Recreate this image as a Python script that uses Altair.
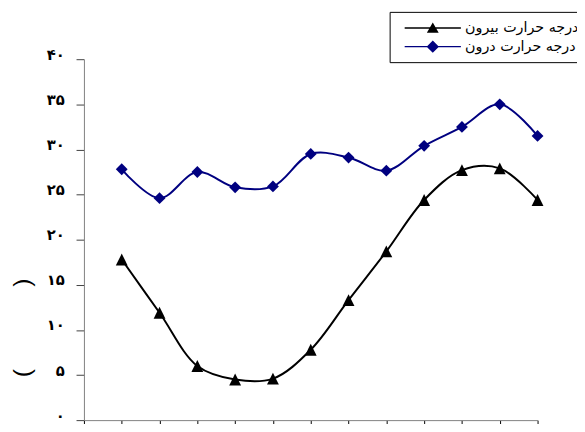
import altair as alt
import pandas as pd

# ---- data ----
months = [1, 2, 3, 4, 5, 6, 7, 8, 9, 10, 11, 12]
outside = [17.8, 11.9, 6.0, 4.5, 4.6, 7.8, 13.3, 18.7, 24.4, 27.7, 27.9, 24.4]
inside = [27.8, 24.6, 27.5, 25.8, 25.9, 29.5, 29.1, 27.65, 30.4, 32.5, 35.0, 31.5]
series_names = ["درجه حرارت بیرون", "درجه حرارت درون"]
series_colors = ["#000000", "#000080"]
y_tick_values = [0, 5, 10, 15, 20, 25, 30, 35, 40]
y_tick_labels = ["۰", "۵", "۱۰", "۱۵", "۲۰", "۲۵", "۳۰", "۳۵", "۴۰"]
x_tick_values = [0, 1, 2, 3, 4, 5, 6, 7, 8, 9, 10, 11, 12]
y_title = "(" + "\u00a0" * 12 + ")"

rows = []
for m, v in zip(months, outside):
    rows.append({"month": m, "value": v, "series": series_names[0]})
for m, v in zip(months, inside):
    rows.append({"month": m, "value": v, "series": series_names[1]})
df = pd.DataFrame(rows)

# marker shapes (custom paths)
tri_path = "M0,-1L1,1L-1,1Z"
dia_path = "M0,-1L1,0L0,1L-1,0Z"
# legend symbols: line + marker in one path
def leg_path(marker):
    line = "M-0.2,-0.15H11.2V0.15H-0.2Z"
    c = 5.5
    if marker == "tri":
        m = f"M{c},-1.1L{c+1.2},1L{c-1.2},1Z"
    else:
        m = f"M{c},-1.25L{c+1.25},0L{c},1.25L{c-1.25},0Z"
    return line + m

label_expr = "[" + ",".join(f"'{t}'" for t in y_tick_labels) + "][round(datum.value/5)]"

x_enc = alt.X("month:Q", scale=alt.Scale(domain=[0, 12], nice=False),
              axis=alt.Axis(values=x_tick_values, labels=False, grid=False, tickSize=9,
                            title=None, domainColor="#808080", tickColor="#000000"))
y_enc = alt.Y("value:Q", scale=alt.Scale(domain=[0, 40], nice=False),
              axis=alt.Axis(values=y_tick_values, labelExpr=label_expr, grid=False, tickSize=8,
                            labelPadding=12, labelFont="DejaVu Sans", labelFontSize=15,
                            labelFontWeight="bold", labelColor="#000000",
                            labelBaseline="alphabetic",
                            title=y_title, titleAngle=-90, titleX=-63, titleY=272,
                            titleBaseline="middle",
                            titleFont="Liberation Sans",
                            titleFontSize=25, titleFontWeight="normal", titleColor="#000000",
                            domainColor="#808080", tickColor="#404040"))

def color_enc(legend):
    return alt.Color("series:N", scale=alt.Scale(domain=series_names, range=series_colors),
                     legend=legend)

base = alt.Chart(df)

lines = base.mark_line(interpolate="catmull-rom", strokeWidth=2).encode(
    x=x_enc, y=y_enc, color=color_enc(None), detail="series:N"
)

points = base.mark_point(filled=True, size=144, opacity=1).encode(
    x=x_enc, y=y_enc, color=color_enc(None),
    shape=alt.Shape("series:N", scale=alt.Scale(domain=series_names, range=[tri_path, dia_path]),
                    legend=None),
)

legend_def = alt.Legend(
    title=None, orient="none", legendX=310, legendY=-48,
    strokeColor="#000000", fillColor="#ffffff", padding=9,
    labelFont="DejaVu Sans", labelFontSize=14.5, labelColor="#000000",
    labelOffset=53, symbolSize=100, symbolStrokeWidth=0, rowPadding=4,
    labelLimit=300,
)

legend_layer = base.transform_filter("false").mark_point(filled=True, size=100, opacity=1).encode(
    x=x_enc, y=y_enc,
    color=color_enc(legend_def),
    shape=alt.Shape("series:N",
                    scale=alt.Scale(domain=series_names, range=[leg_path("tri"), leg_path("dia")]),
                    legend=legend_def),
)

chart = alt.layer(lines, points, legend_layer).resolve_scale(
    color="independent", shape="independent"
).properties(
    width=460, height=366,
    autosize=alt.AutoSizeParams(type="none"),
    padding={"left": 77, "top": 49, "right": 40, "bottom": 1},
    background="#ffffff",
).configure_view(stroke=None)

chart.save("out.html", embed_options={"renderer": "svg", "actions": False})
